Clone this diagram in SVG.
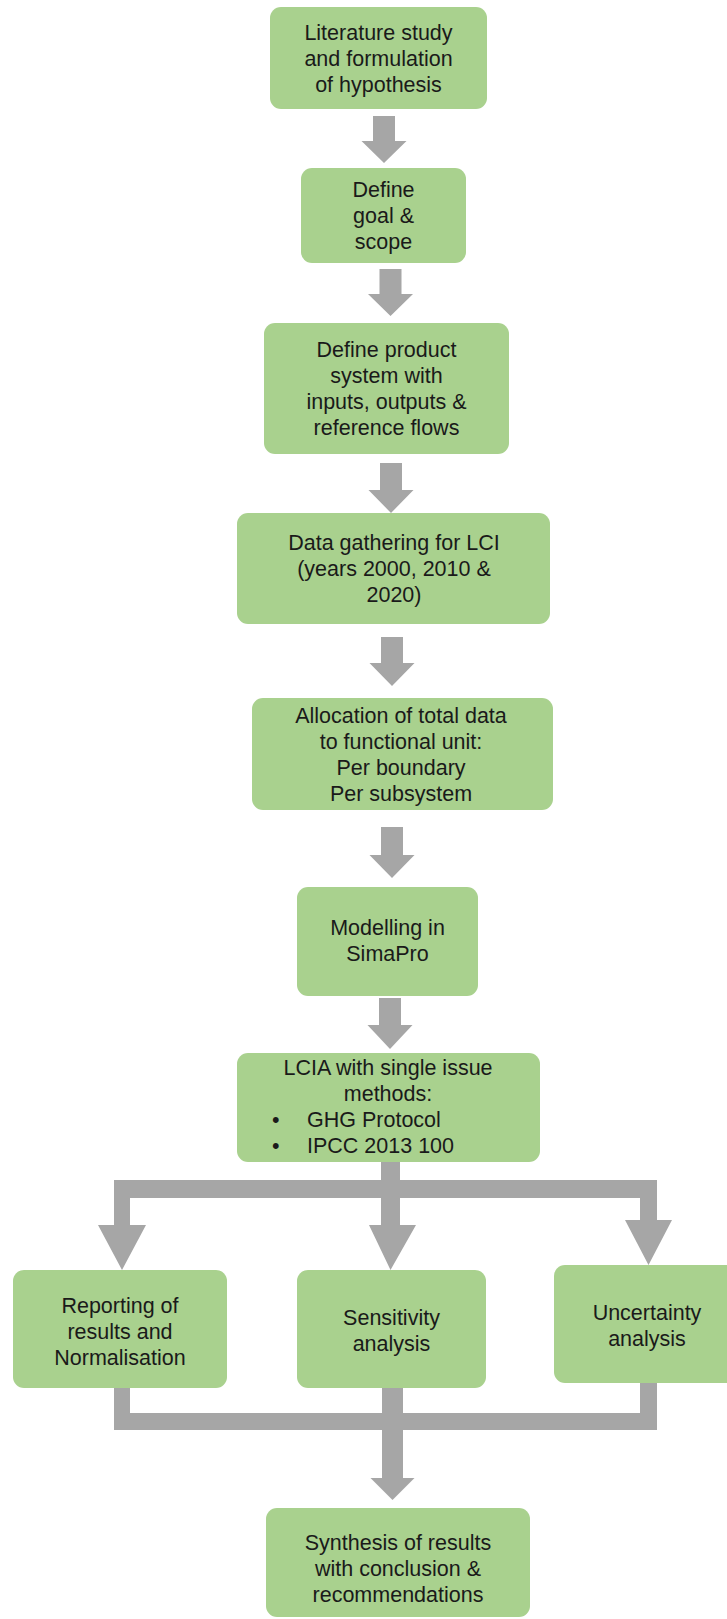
<svg xmlns="http://www.w3.org/2000/svg" width="727" height="1619" viewBox="0 0 727 1619">
<style>
.box{fill:#a9d18e;}
.t{font-family:"Liberation Sans",Arial,sans-serif;font-size:21.5px;fill:#1a1a1a;text-anchor:middle;}
.tl{font-family:"Liberation Sans",Arial,sans-serif;font-size:21.5px;fill:#1a1a1a;}
.c{fill:#a6a6a6;}
</style>
<rect width="727" height="1619" fill="#ffffff"/>
<g id="connectors">
<polygon class="c" points="373,116 395,116 395,141 406.5,141 384,163 361.5,141 373,141"/>
<polygon class="c" points="379.5,269 401.5,269 401.5,294 413,294 390.5,316 368,294 379.5,294"/>
<polygon class="c" points="380,463 402,463 402,490 413.5,490 391,513 368.5,490 380,490"/>
<polygon class="c" points="381,637 403,637 403,663 414.5,663 392,686 369.5,663 381,663"/>
<polygon class="c" points="381,827 403,827 403,855 414.5,855 392,878 369.5,855 381,855"/>
<polygon class="c" points="379,998 401,998 401,1025 412.5,1025 390,1049 367.5,1025 379,1025"/>
<rect class="c" x="381" y="1160" width="19" height="40"/>
<rect class="c" x="114" y="1180" width="543" height="18"/>
<polygon class="c" points="114,1180 130,1180 130,1225 146,1225 122,1270 98,1225 114,1225"/>
<polygon class="c" points="381,1190 400,1190 400,1225 416,1225 390.5,1270 369,1225 381,1225"/>
<polygon class="c" points="640,1180 657,1180 657,1220 672,1220 648.5,1265 625,1220 640,1220"/>
<rect class="c" x="114" y="1385" width="16" height="45"/>
<rect class="c" x="640" y="1380" width="17" height="50"/>
<rect class="c" x="114" y="1413" width="543" height="17"/>
<polygon class="c" points="382,1385 403,1385 403,1478 414.5,1478 392.5,1500 370.5,1478 382,1478"/>
</g>
<g id="n1"><rect class="box" x="270" y="7" width="217" height="102" rx="11"/>
<text class="t" x="378.5" y="39.5">Literature study</text>
<text class="t" x="378.5" y="65.5">and formulation</text>
<text class="t" x="378.5" y="91.5">of hypothesis</text></g>
<g id="n2"><rect class="box" x="301" y="168" width="165" height="95" rx="11"/>
<text class="t" x="383.5" y="197">Define</text>
<text class="t" x="383.5" y="223">goal &amp;</text>
<text class="t" x="383.5" y="249">scope</text></g>
<g id="n3"><rect class="box" x="264" y="323" width="245" height="131" rx="11"/>
<text class="t" x="386.5" y="357">Define product</text>
<text class="t" x="386.5" y="383">system with</text>
<text class="t" x="386.5" y="409">inputs, outputs &amp;</text>
<text class="t" x="386.5" y="435">reference flows</text></g>
<g id="n4"><rect class="box" x="237" y="513" width="313" height="111" rx="11"/>
<text class="t" x="394" y="550">Data gathering for LCI</text>
<text class="t" x="394" y="576">(years 2000, 2010 &amp;</text>
<text class="t" x="394" y="602">2020)</text></g>
<g id="n5"><rect class="box" x="252" y="698" width="301" height="112" rx="11"/>
<text class="t" x="401" y="722.5">Allocation of total data</text>
<text class="t" x="401" y="748.5">to functional unit:</text>
<text class="t" x="401" y="774.5">Per boundary</text>
<text class="t" x="401" y="800.5">Per subsystem</text></g>
<g id="n6"><rect class="box" x="297" y="887" width="181" height="109" rx="11"/>
<text class="t" x="387.5" y="934.5">Modelling in</text>
<text class="t" x="387.5" y="960.5">SimaPro</text></g>
<g id="n7"><rect class="box" x="237" y="1053" width="303" height="109" rx="11"/>
<text class="t" x="388" y="1074.5">LCIA with single issue</text>
<text class="t" x="388" y="1100.5">methods:</text>
<text class="tl" x="272" y="1126.5">•</text>
<text class="tl" x="307" y="1126.5">GHG Protocol</text>
<text class="tl" x="272" y="1152.5">•</text>
<text class="tl" x="307" y="1152.5">IPCC 2013 100</text></g>
<g id="n8"><rect class="box" x="13" y="1270" width="214" height="118" rx="11"/>
<text class="t" x="120" y="1312.5">Reporting of</text>
<text class="t" x="120" y="1338.5">results and</text>
<text class="t" x="120" y="1364.5">Normalisation</text></g>
<g id="n9"><rect class="box" x="297" y="1270" width="189" height="118" rx="11"/>
<text class="t" x="391.5" y="1324.5">Sensitivity</text>
<text class="t" x="391.5" y="1350.5">analysis</text></g>
<g id="n10"><rect class="box" x="554" y="1265" width="185" height="118" rx="11"/>
<text class="t" x="647" y="1319.5">Uncertainty</text>
<text class="t" x="647" y="1345.5">analysis</text></g>
<g id="n11"><rect class="box" x="266" y="1508" width="264" height="109" rx="11"/>
<text class="t" x="398" y="1549.5">Synthesis of results</text>
<text class="t" x="398" y="1575.5">with conclusion &amp;</text>
<text class="t" x="398" y="1601.5">recommendations</text></g>
</svg>
